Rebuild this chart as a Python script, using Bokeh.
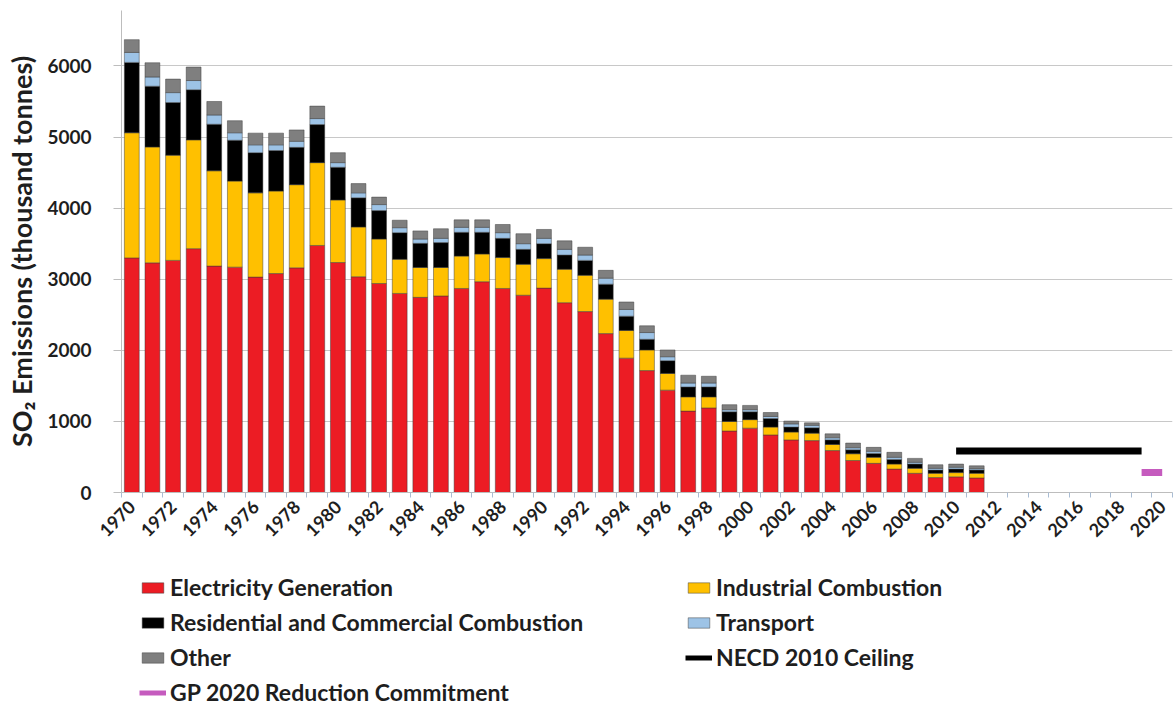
from bokeh.plotting import figure
from bokeh.models import ColumnDataSource, Range1d, FixedTicker, Legend, LegendItem
from bokeh.layouts import column
from bokeh.embed import file_html
from bokeh.resources import INLINE
from math import pi

# UK sulphur dioxide emissions by source, thousand tonnes
years = list(range(1970, 2012))
electricity = [3300, 3230, 3265, 3430, 3185, 3170, 3030, 3080, 3160, 3475, 3235,
               3035, 2940, 2800, 2745, 2765, 2870, 2965, 2870, 2775, 2875, 2670, 2545, 2235,
               1890, 1715, 1440, 1145, 1190, 865, 905, 810, 740, 730, 590,
               450, 410, 330, 270, 210, 220, 205]
industrial = [1760, 1630, 1480, 1530, 1340, 1210, 1185, 1160, 1170, 1165, 880,
              700, 625, 480, 420, 400, 455, 390, 435, 435, 415, 470, 510, 485,
              390, 290, 235, 200, 155, 135, 120, 110, 110, 105, 85,
              95, 85, 70, 70, 60, 60, 65]
residential = [990, 855, 740, 705, 655, 575, 565, 570, 525, 535, 460,
               410, 400, 375, 340, 350, 335, 305, 270, 210, 210, 200, 210, 210,
               200, 150, 180, 140, 140, 135, 110, 120, 70, 75, 65,
               55, 55, 65, 60, 45, 50, 45]
transport = [140, 130, 140, 130, 130, 105, 110, 80, 85, 85, 65,
             70, 85, 70, 60, 60, 70, 70, 80, 80, 75, 80, 75, 85,
             95, 95, 55, 55, 55, 30, 30, 30, 45, 35, 30,
             30, 30, 30, 25, 25, 25, 20]
other = [180, 200, 190, 190, 190, 170, 165, 165, 160, 175, 140,
         130, 105, 105, 115, 135, 105, 105, 115, 140, 125, 120, 110, 110,
         105, 95, 95, 110, 95, 70, 60, 55, 40, 35, 55,
         65, 55, 70, 55, 50, 45, 40]

# Targets
necd_years = [2010, 2019]
necd_ceiling = [585, 585]
gp_years = [2019, 2020]
gp_commitment = [280, 280]

year_ticks = list(range(1970, 2021, 2))
category_edges = [y - 0.5 for y in range(1970, 2022)]
value_ticks = [0, 1000, 2000, 3000, 4000, 5000, 6000]

series_names = ["electricity", "industrial", "residential", "transport", "other"]
series_labels = ["Electricity Generation", "Industrial Combustion",
                 "Residential and Commercial Combustion", "Transport", "Other"]
series_colors = ["#EC1C24", "#FFC000", "#000000", "#9DC3E6", "#7F7F7F"]
necd_label = "NECD 2010 Ceiling"
gp_label = "GP 2020 Reduction Commitment"
necd_color = "#000000"
gp_color = "#C55BBE"

source = ColumnDataSource(dict(year=years, electricity=electricity, industrial=industrial,
                               residential=residential, transport=transport, other=other))

FONT = "Lato"
TEXT = "#1e1e1e"
BAR_LINE = dict(line_color="#3a3a3a", line_width=0.8, line_alpha=0.6)

# ---- main chart ----
p = figure(width=1176, height=560, output_backend="svg", toolbar_location=None,
           x_range=Range1d(1969.5, 2020.5), y_range=Range1d(0, 6780),
           min_border_left=121, min_border_right=4, min_border_top=10, min_border_bottom=68)
p.outline_line_color = None

p.vbar_stack(series_names, x="year", width=0.72, source=source,
             fill_color=series_colors, **BAR_LINE)
p.line(necd_years, necd_ceiling, line_color=necd_color, line_width=7, line_cap="butt")
p.line(gp_years, gp_commitment, line_color=gp_color, line_width=7, line_cap="butt")

p.xgrid.grid_line_color = None
p.ygrid.ticker = FixedTicker(ticks=value_ticks)
p.ygrid.grid_line_color = "#C8C8C8"
p.ygrid.grid_line_width = 1.2

ya = p.yaxis[0]
ya.ticker = FixedTicker(ticks=value_ticks)
ya.axis_label = "SO\u2082 Emissions (thousand tonnes)"
ya.axis_label_text_font = FONT
ya.axis_label_text_font_style = "bold"
ya.axis_label_text_font_size = "27px"
ya.axis_label_text_color = TEXT
ya.axis_label_standoff = 6
ya.major_label_text_font = FONT
ya.major_label_text_font_style = "bold"
ya.major_label_text_font_size = "19px"
ya.major_label_text_color = TEXT
ya.major_label_standoff = 22
ya.major_tick_out = 8
ya.major_tick_in = 0
ya.minor_tick_out = 0
ya.minor_tick_in = 0
ya.axis_line_color = "#BDBDBD"
ya.major_tick_line_color = "#BDBDBD"

xa = p.xaxis[0]
xa.ticker = FixedTicker(ticks=year_ticks, minor_ticks=category_edges)
xa.major_label_orientation = pi / 4
xa.major_label_text_font = FONT
xa.major_label_text_font_style = "bold"
xa.major_label_text_font_size = "18px"
xa.major_label_text_color = TEXT
xa.major_label_standoff = 6
xa.major_tick_out = 0
xa.major_tick_in = 0
xa.minor_tick_out = 5
xa.minor_tick_in = 0
xa.minor_tick_line_color = "#A9BCD3"
xa.axis_line_color = "#BDBDBD"

# ---- legend strip (keys sit outside the strip's visible range) ----
lg = figure(width=1176, height=146, output_backend="svg", toolbar_location=None,
            x_range=Range1d(0, 1), y_range=Range1d(0, 1),
            x_axis_type=None, y_axis_type=None, min_border=0)
lg.outline_line_color = None
lg.xgrid.visible = False
lg.ygrid.visible = False

swatches = [lg.vbar(x=[-5], top=[-5], width=0.1, fill_color=c, **BAR_LINE)
            for c in series_colors]
necd_key = lg.line(x=[-5, -4], y=[-5, -5], line_color=necd_color, line_width=5, line_cap="butt")
gp_key = lg.line(x=[-5, -4], y=[-5, -5], line_color=gp_color, line_width=5, line_cap="butt")

legend = Legend(items=[
    LegendItem(label=series_labels[0], renderers=[swatches[0]]),
    LegendItem(label=series_labels[2], renderers=[swatches[2]]),
    LegendItem(label=series_labels[4], renderers=[swatches[4]]),
    LegendItem(label=gp_label, renderers=[gp_key]),
    LegendItem(label=series_labels[1], renderers=[swatches[1]]),
    LegendItem(label=series_labels[3], renderers=[swatches[3]]),
    LegendItem(label=necd_label, renderers=[necd_key]),
], ncols=2, location=(18, 0),
   label_text_font=FONT, label_text_font_style="bold",
   label_text_font_size="23px", label_text_color=TEXT,
   glyph_width=27, glyph_height=13, label_standoff=4, label_width=508,
   label_height=20, spacing=7, padding=0, margin=0, border_line_color=None,
   background_fill_alpha=0)
lg.add_layout(legend, "center")

open("out.html", "w").write(file_html(column(p, lg, spacing=0), INLINE))
